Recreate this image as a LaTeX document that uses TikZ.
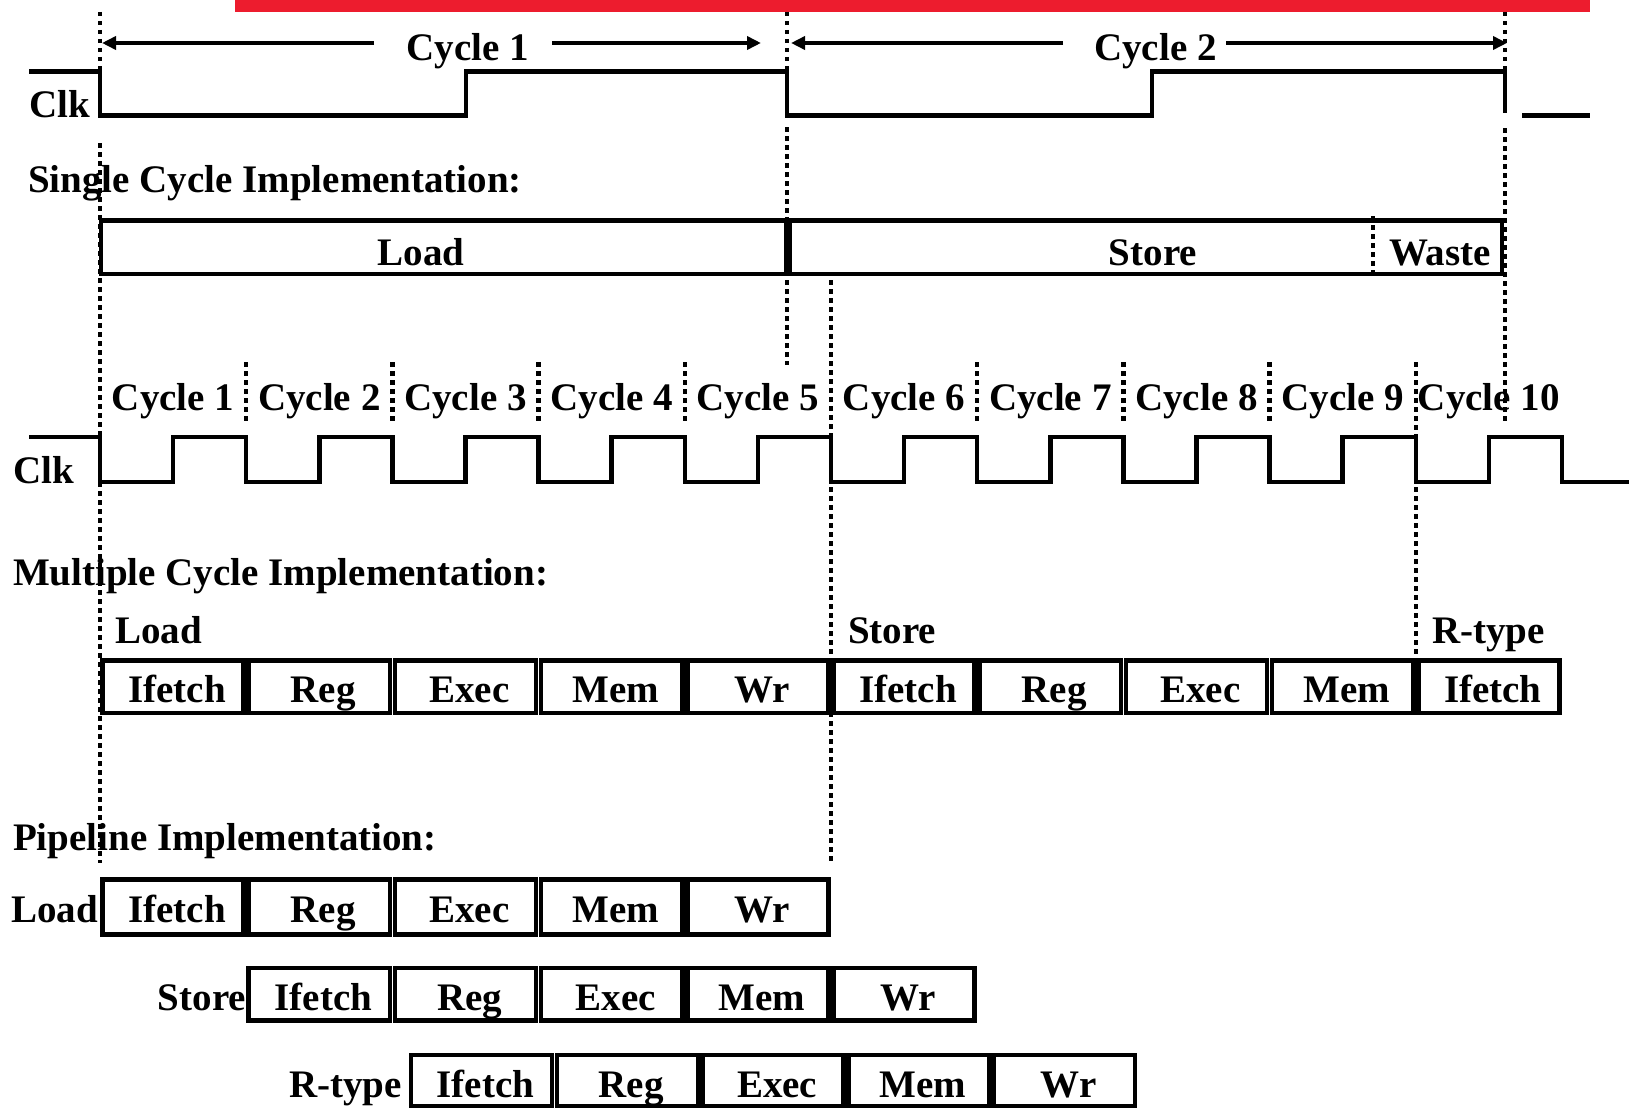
\documentclass[tikz,border=0pt]{standalone}
\usepackage{fontspec}
\setmainfont{Liberation Serif}
\usetikzlibrary{arrows.meta}
\definecolor{barred}{RGB}{237,28,46}
\begin{document}
\begin{tikzpicture}[x=1pt,y=-1pt,
  txt/.style={font=\fontsize{39}{45}\selectfont\bfseries, inner sep=0pt, outer sep=0pt},
  sig/.style={line width=4.5pt, line join=miter},
  grid/.style={line width=4.3pt, dash pattern=on 4.5pt off 4.5pt},
  span/.style={line width=4.5pt, -{Triangle[length=14pt,width=13pt]}},
  stage/.style={txt, draw, line width=4.5pt, anchor=north west, minimum width=#1,
    execute at begin node={\hspace*{8pt}}},
  mrow/.style={text height=42.2pt, text depth=10.3pt},
  lrow/.style={text height=42.5pt, text depth=12.5pt},
  srow/.style={text height=42pt, text depth=10.5pt},
  rrow/.style={text height=42pt, text depth=9pt}]
\useasboundingbox (0,0) rectangle (1629,1108);
% red bar
\fill[barred] (235,0) rectangle (1590,12);

% ---------- single cycle clock ----------
\node[txt, anchor=base] (cyc1) at (468,60) {Cycle 1};
\node[txt, anchor=base] (cyc2) at (1155.5,60) {Cycle 2};
\coordinate (a1l) at (102,43);  \coordinate (a1ls) at (374,43);
\coordinate (a1r) at (761,43);  \coordinate (a1rs) at (552,43);
\coordinate (a2l) at (791,43);  \coordinate (a2ls) at (1063,43);
\coordinate (a2r) at (1507,43); \coordinate (a2rs) at (1226,43);
\draw[span] (a1ls) -- (a1l);
\draw[span] (a1rs) -- (a1r);
\draw[span] (a2ls) -- (a2l);
\draw[span] (a2rs) -- (a2r);

\node[txt, anchor=base west] (clk1) at (29,117) {Clk};
\draw[sig] (29,71.5) -- (100,71.5) -- (100,115.5) -- (466,115.5) -- (466,71.5)
  -- (787,71.5) -- (787,115.5) -- (1152,115.5) -- (1152,71.5) -- (1505,71.5) -- (1505,113);
\draw[sig] (1522,115.5) -- (1590,115.5);

\node[txt, anchor=base west] (single) at (28,192) {Single Cycle Implementation:};
\node[txt, draw, line width=4.5pt, anchor=north west, minimum width=685pt, minimum height=53.5pt] (sload) at (101,220.5) {};
\node[txt, draw, line width=4.5pt, anchor=north west, minimum width=712pt, minimum height=53.5pt] (sstore) at (790,220.5) {};
\node[txt, anchor=base] (tload) at (421,265) {Load};
\node[txt, anchor=base] (tstore) at (1153,265) {Store};
\node[txt, anchor=base] (twaste) at (1440,265) {Waste};
\draw[grid] (1373,216) -- (1373,278);

% ---------- long dotted lines ----------
\draw[grid] (100,12) -- (100,70);
\draw[grid] (100,143) -- (100,437);
\draw[grid] (100,482) -- (100,863);
\draw[grid] (787,12) -- (787,70);
\draw[grid] (787,127) -- (787,365);
\draw[grid] (1505,12) -- (1505,70);
\draw[grid] (1505,128) -- (1505,425);
\draw[grid] (831,280) -- (831,862);
\draw[grid] (1416,362) -- (1416,437);
\draw[grid] (1416,487) -- (1416,656);
\foreach \xx in {246.2,392.4,538.6,684.8,977.2,1123.4,1269.6}
  \draw[grid] (\xx,362) -- (\xx,425);

% ---------- multiple cycle ----------
\foreach \k in {1,...,10}
  \node[txt, anchor=base] (mc\k) at ({100+146.2*(\k-0.5)},410) {Cycle \k};
\node[txt, anchor=base west] (clk2) at (13,483) {Clk};
\draw[sig] (29,437) -- (100,437)
  \foreach \k in {0,...,9} { -- ++(0,45) -- ++(73.1,0) -- ++(0,-45) -- ++(73.1,0) }
  -- ++(0,45) -- (1629,482);

\node[txt, anchor=base west] (multi) at (13,585) {Multiple Cycle Implementation:};
\node[txt, anchor=base west] (mload) at (115,643) {Load};
\node[txt, anchor=base west] (mstore) at (848,643) {Store};
\node[txt, anchor=base west] (mrtype) at (1432,643) {R-type};
\foreach \lab [count=\k from 0] in {Ifetch,Reg,Exec,Mem,Wr,Ifetch,Reg,Exec,Mem,Ifetch}
  \node[stage=141.2pt, mrow] (m\k) at ({102.5+146.2*\k},660.5) {\lab};

% ---------- pipeline ----------
\node[txt, anchor=base west] (pipe) at (13,850) {Pipeline Implementation:};
\node[txt, anchor=base east] (pload) at (98,922) {Load};
\node[txt, anchor=base east] (pstore) at (246,1010) {Store};
\node[txt, anchor=base east] (prtype) at (402,1097) {R-type};
\foreach \lab [count=\k from 0] in {Ifetch,Reg,Exec,Mem,Wr}
  \node[stage=141.2pt, lrow] (pl\k) at ({102.5+146.2*\k},879.5) {\lab};
\foreach \lab [count=\k from 0] in {Ifetch,Reg,Exec,Mem,Wr}
  \node[stage=141.2pt, srow] (ps\k) at ({102.5+146.2*(\k+1)},968) {\lab};
\foreach \lab [count=\k from 0] in {Ifetch,Reg,Exec,Mem,Wr}
  \node[stage=141pt, rrow] (pr\k) at ({411+145.8*\k},1055) {\lab};
\end{tikzpicture}
\end{document}
